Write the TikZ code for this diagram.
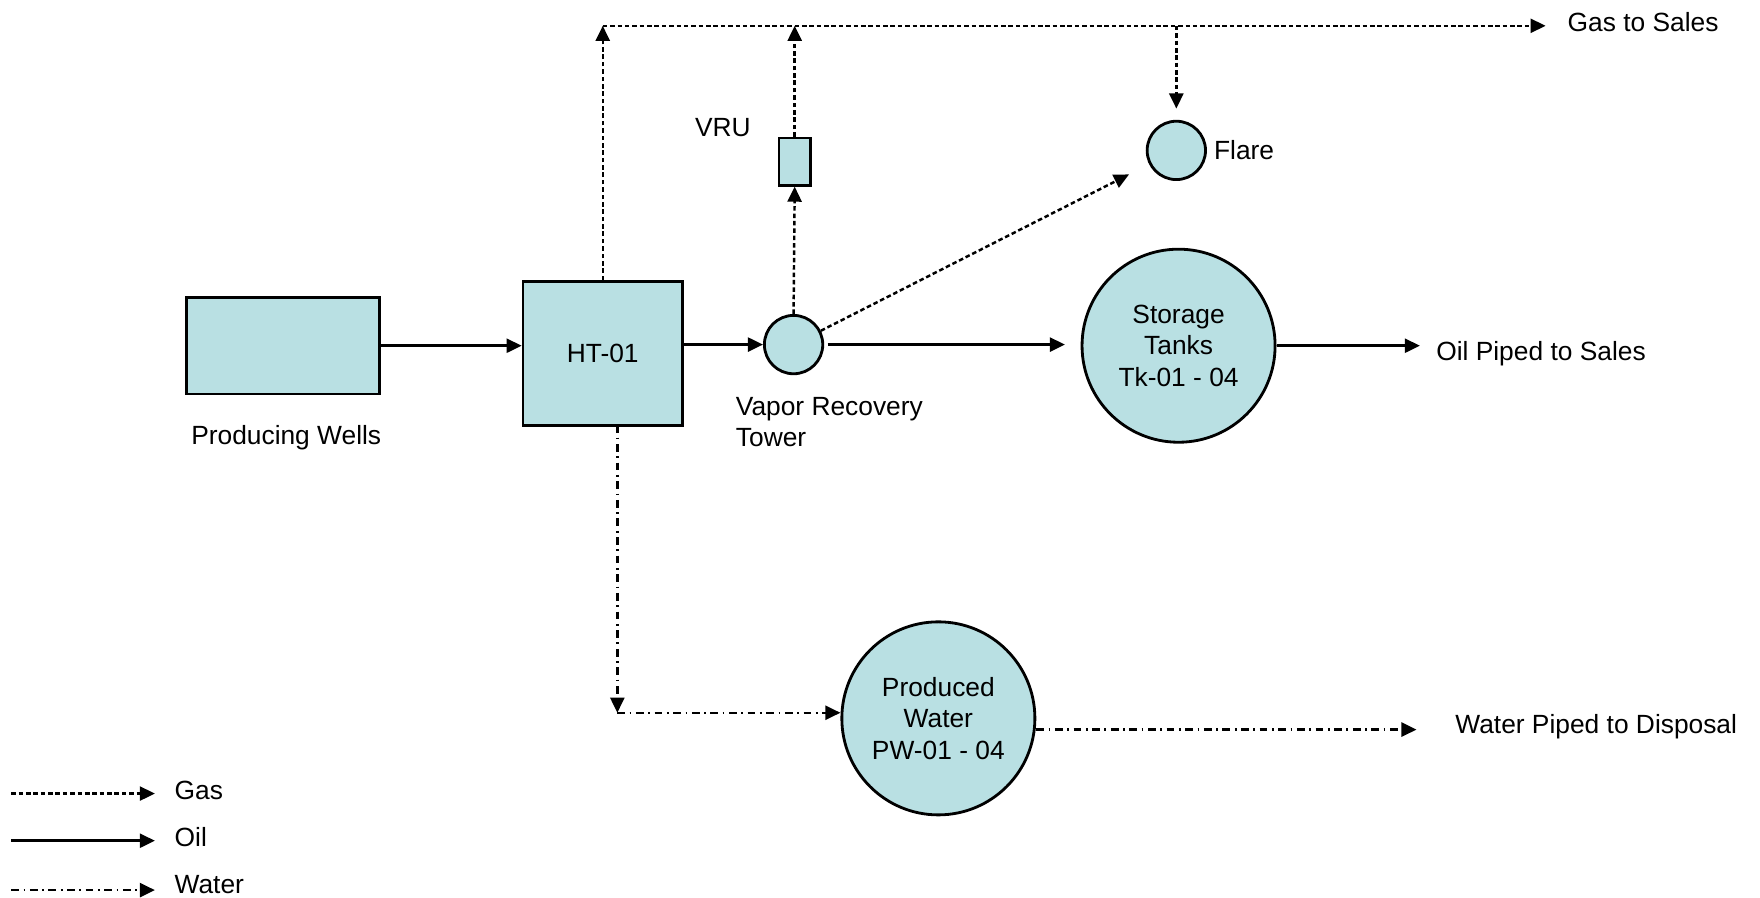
\documentclass[tikz,border=0pt]{standalone}
\usepackage{fontspec}
\setmainfont{Liberation Sans}
\usetikzlibrary{arrows.meta,calc}
\definecolor{tankfill}{RGB}{185,224,227}
\def\u{0.011224cm}
\begin{document}
\begin{tikzpicture}[x=0.011224cm,y=-0.011224cm,
  font=\fontsize{7.5}{8.9}\selectfont,
  unit/.style={draw=black,line width=0.8pt,fill=tankfill,inner sep=0pt,align=center},
  boxunit/.style={unit,rectangle},
  tank/.style={unit,circle},
  lbl/.style={inner sep=0pt,align=left},
  flow/.style={line width=0.7pt,-{Triangle[length=4.3pt,width=4pt]}},
  oil/.style={flow},
  gas/.style={flow,dash pattern=on 1.3pt off 0.8pt},
  water/.style={flow,dash pattern=on 2.2pt off 1.3pt on 0.5pt off 1.3pt}]
\useasboundingbox (0,0) rectangle (1568,800);

% units
\node[boxunit,minimum width={172*\u},minimum height={86*\u}] (pw) at (252,308) {};
\node[boxunit,minimum width={142*\u},minimum height={128*\u}] (ht) at (537,315) {HT-01};
\node[tank,minimum size={52*\u}] (vrt) at (707,307) {};
\node[boxunit,minimum width={28*\u},minimum height={42*\u}] (vru) at (708,144) {};
\node[tank,minimum size={52*\u}] (flare) at (1048,134) {};
\node[tank,minimum size={172*\u}] (st) at (1050,308) {Storage\\Tanks\\Tk-01 - 04};
\node[tank,minimum size={172*\u}] (prw) at (836,640) {Produced\\Water\\PW-01 - 04};

% labels
\node[lbl] (pwl) at (255,390) {Producing Wells};
\node[lbl,anchor=west] (vrtl) at (655,376) {Vapor Recovery\\Tower};
\node[lbl] (vrul) at (644,114) {VRU};
\node[lbl,anchor=west] (flarel) at (1081,134) {Flare};
\node[lbl,anchor=west] (gsl) at (1396,20) {Gas to Sales};
\node[lbl,anchor=west] (opl) at (1279,315) {Oil Piped to Sales};
\node[lbl,anchor=west] (wpl) at (1296,647) {Water Piped to Disposal};

% coordinates
\coordinate (g1) at (537,23);
\coordinate (g2) at (708,23);
\coordinate (g3) at (1048,23);
\coordinate (gend) at (1377,23);
\coordinate (oilend) at (1265,308);
\coordinate (wtop) at (550,379);
\coordinate (wcorner) at (550,635);
\coordinate (wout) at (1262,650);

% oil
\draw[oil] (pw.east) -- (ht.west |- pw.east);
\draw[oil] (ht.east |- vrt.west) -- (vrt.west);
\draw[oil,shorten <={3*\u},shorten >={14*\u}] (vrt.east) -- (vrt.east -| st.west);
\draw[oil] (st.east) -- (oilend);

% gas
\draw[gas] (ht.north) -- (g1);
\draw[gas] (vrt.north) -- (vru.south);
\draw[gas] (vru.north) -- (g2);
\draw[gas] (g1) -- (gend);
\draw[gas,shorten >={10*\u}] (g3) -- (flare.north);
\draw[gas,shorten >={20*\u}] (vrt) -- (flare);

% water
\draw[water] (wtop) -- (wcorner);
\draw[water] (wcorner) -- (wcorner -| prw.west);
\draw[water] (prw.east |- wout) -- (wout);

% legend
\coordinate (lgs) at (10,707);
\coordinate (lge) at (138,707);
\coordinate (los) at (10,749);
\coordinate (loe) at (138,749);
\coordinate (lws) at (10,793);
\coordinate (lwe) at (138,793);
\draw[gas] (lgs) -- (lge);
\draw[oil] (los) -- (loe);
\draw[water] (lws) -- (lwe);
\node[lbl,anchor=west] (lgl) at (155,704) {Gas};
\node[lbl,anchor=west] (lol) at (155,746) {Oil};
\node[lbl,anchor=west] (lwl) at (155,788) {Water};
\end{tikzpicture}
\end{document}
